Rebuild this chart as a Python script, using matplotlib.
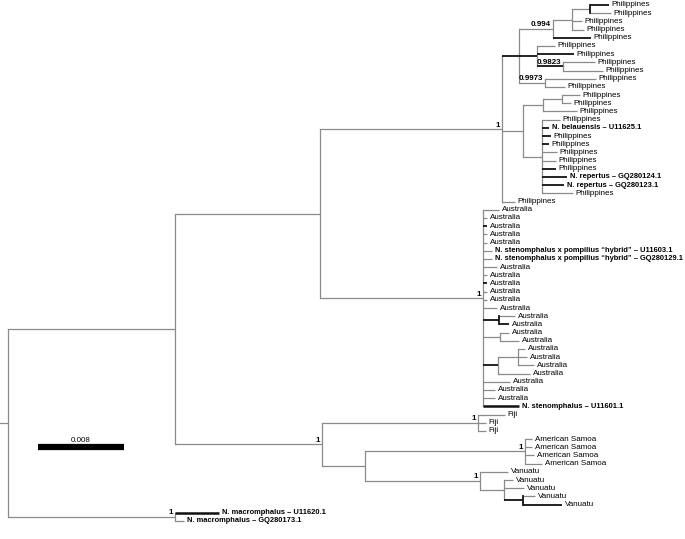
import matplotlib
matplotlib.use("Agg")
import matplotlib.pyplot as plt

# clades as Newick strings, branch lengths in substitutions/site,
# internal labels are posterior supports
phil = ("(((((Philippines:0.00177,Philippines:0.00195):0.00167,Philippines:0.00093,"
        "Philippines:0.00112):0.00177,Philippines:0.00353)0.994:0.00316,"
        "(Philippines:0.00167,Philippines:0.00344,(Philippines:0.00298,"
        "Philippines:0.00372)0.9823:0.00242):0.00167,(Philippines:0.00474,"
        "Philippines:0.00186)0.9973:0.00242):0.00158,(((Philippines:0.00167,"
        "Philippines:0.00084):0.00177,Philippines:0.00316):0.00186,"
        "(Philippines:0.00167,N. belauensis – U11625.1:0.00065,Philippines:0.00084,"
        "Philippines:0.00065,Philippines:0.0014,Philippines:0.0013,Philippines:0.0013,"
        "N. repertus – GQ280124.1:0.00233,N. repertus – GQ280123.1:0.00205,"
        "Philippines:0.00288):0.00177):0.00195,Philippines:0.00121)1")
aus = ("(Australia:0.00149,Australia:0.00037,Australia:0.00037,Australia:0.00037,"
       "Australia:0.00037,N. stenomphalus x pompilius “hybrid” – U11603.1:0.00084,"
       "N. stenomphalus x pompilius “hybrid” – GQ280129.1:0.00084,Australia:0.0013,"
       "Australia:0.00037,Australia:0.00037,Australia:0.00037,Australia:0.00037,"
       "Australia:0.0013,(Australia:0.00149,Australia:0.00093):0.00149,"
       "(Australia:0.00084,Australia:0.00177):0.00158,((Australia:0.00065,"
       "Australia:0.00084,Australia:0.00149):0.00186,Australia:0.00298):0.0014,"
       "Australia:0.00251,Australia:0.00112,Australia:0.00112,"
       "N. stenomphalus – U11601.1:0.00335)1")
fiji = "(Fiji:0.00251,Fiji:0.00074,Fiji:0.00074)1"
samoa = ("(American Samoa:0.00065,American Samoa:0.00065,American Samoa:0.00084,"
         "American Samoa:0.00158)1")
vanuatu = ("(Vanuatu:0.0026,(Vanuatu:0.00084,Vanuatu:0.00186,(Vanuatu:0.00112,"
           "Vanuatu:0.00363):0.00177):0.00223)1")
macro = "(N. macromphalus – U11620.1:0.00409,N. macromphalus – GQ280173.1:0.00084)1"
backbone = ("((({phil}:0.01693,{aus}:0.01516):0.01349,({fiji}:0.01451,"
            "({samoa}:0.01488,{vanuatu}:0.0107):0.004)1:0.01367):0.01553,"
            "{macro}:0.01553)")

# branches drawn in black (leaf indices, and clades given as first/last leaf)
dark_tips = [0, 4, 6, 15, 16, 17, 20, 21, 22, 27, 34, 39, 49, 61, 62]
dark_clades = [(0, 10), (5, 8), (7, 8), (38, 39), (42, 45), (60, 61)]
dark_joins = [(0, 1), (38, 39), (60, 61)]
thick_tips = [49, 62]

scale_len = 0.008
px_per_unit = 86 / scale_len


def parse(s):
    pos = 0

    def node():
        nonlocal pos
        kids = []
        if s[pos] == '(':
            pos += 1
            while True:
                kids.append(node())
                if s[pos] == ',':
                    pos += 1
                    continue
                pos += 1
                break
        start = pos
        while pos < len(s) and s[pos] not in ':,()':
            pos += 1
        name = s[start:pos].strip()
        length = 0.0
        if pos < len(s) and s[pos] == ':':
            pos += 1
            start = pos
            while pos < len(s) and s[pos] not in ',()':
                pos += 1
            length = float(s[start:pos])
        return {'name': name, 'len': length, 'kids': kids}

    return node()


tree = parse(backbone.format(phil=phil, aus=aus, fiji=fiji, samoa=samoa,
                             vanuatu=vanuatu, macro=macro))
leaves = []


def layout(n, x0):
    n['x'] = x0 + n['len']
    if n['kids']:
        for k in n['kids']:
            layout(k, n['x'])
        n['y'] = sum(k['y'] for k in n['kids']) / len(n['kids'])
        n['first'] = n['kids'][0]['first']
        n['last'] = n['kids'][-1]['last']
    else:
        n['y'] = len(leaves)
        n['first'] = n['last'] = len(leaves)
        leaves.append(n)


layout(tree, 0.0)

plt.rcParams['font.family'] = ['Liberation Sans', 'DejaVu Sans']
fig = plt.figure(figsize=(6.85, 5.39), dpi=100)
ax = fig.add_axes([0, 0, 1, 1])
ax.axis('off')
ax.set_xlim(-8 / px_per_unit, 677 / px_per_unit)
ax.set_ylim((539 - 5) / 8.19, -5 / 8.19)

GRAY = '#8a8a8a'
DARK = '#111111'


def draw(n):
    if n['kids']:
        ys = [k['y'] for k in n['kids']]
        dj = (n['first'], n['last']) in dark_joins
        ax.plot([n['x'], n['x']], [min(ys), max(ys)],
                color=DARK if dj else GRAY, lw=1.3 if dj else 0.9,
                zorder=3 if dj else 2, solid_capstyle='projecting')
    for k in n['kids']:
        if k['kids']:
            dark = (k['first'], k['last']) in dark_clades
        else:
            dark = k['first'] in dark_tips
        lw = 1.3 if dark else 0.9
        if not k['kids'] and k['first'] in thick_tips:
            lw = 1.8
        ax.plot([n['x'], k['x']], [k['y'], k['y']],
                color=DARK if dark else GRAY, lw=lw, zorder=3 if dark else 2,
                solid_capstyle='butt')
        draw(k)
    if not n['kids']:
        bold = n['name'].startswith('N. ')
        ax.annotate(n['name'], (n['x'], n['y']), xytext=(2, 0),
                    textcoords='offset points', va='center', ha='left',
                    fontsize=5.45 if bold else 5.8,
                    fontweight='bold' if bold else 'normal')
    elif n['name']:
        ax.annotate(n['name'], (n['x'], n['y']), xytext=(-1.5, 0.5),
                    textcoords='offset points', va='bottom', ha='right',
                    fontsize=5.8, fontweight='bold')


# root stem
ax.plot([-8 / px_per_unit, 0], [tree['y'], tree['y']], color=GRAY, lw=0.9)
draw(tree)

# scale bar
sx = 30 / px_per_unit
sy = (447 - 5) / 8.19
ax.plot([sx, sx + scale_len], [sy, sy], color='black', lw=4.5,
        solid_capstyle='butt')
ax.annotate(f'{scale_len:g}', (sx + scale_len / 2, sy), xytext=(0, 2.5),
            textcoords='offset points', ha='center', va='bottom', fontsize=5.8)

fig.savefig('out.png', dpi=100)
